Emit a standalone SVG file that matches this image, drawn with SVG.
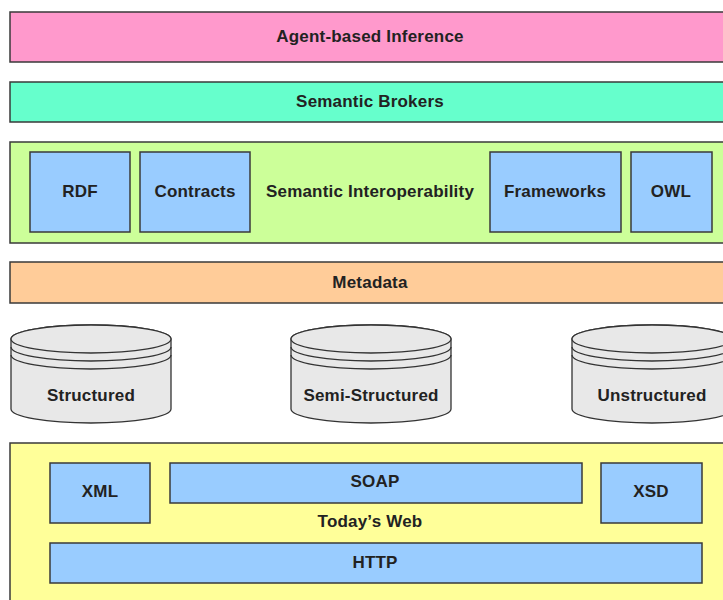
<svg xmlns="http://www.w3.org/2000/svg" width="723" height="600" viewBox="0 0 723 600">
<style>
.l{stroke:#3a3a3a;stroke-width:1.5}
.b{fill:#99CCFF;stroke:#3a3a3a;stroke-width:1.5}
.c{fill:#E8E8E8;stroke:#333;stroke-width:1.3}
.t{font-family:"Liberation Sans",Arial,sans-serif;font-weight:bold;font-size:17px;letter-spacing:0.2px;fill:#222;text-anchor:middle;dominant-baseline:central}
</style>
<rect width="723" height="600" fill="#fff"/>
<g id="agent"><rect class="l" x="10" y="12" width="730" height="50" fill="#FF99CC"/><text class="t" x="370" y="36">Agent-based Inference</text></g>
<g id="brokers"><rect class="l" x="10" y="82" width="730" height="40" fill="#66FFCC"/><text class="t" x="370" y="101">Semantic Brokers</text></g>
<g id="interop"><rect class="l" x="10" y="142" width="730" height="101" fill="#CCFF99"/><text class="t" x="370" y="191">Semantic Interoperability</text></g>
<g id="rdf"><rect class="b" x="30" y="152" width="100" height="80"/><text class="t" x="80" y="191">RDF</text></g>
<g id="contracts"><rect class="b" x="140" y="152" width="110" height="80"/><text class="t" x="195" y="191">Contracts</text></g>
<g id="frameworks"><rect class="b" x="490" y="152" width="131" height="80"/><text class="t" x="555" y="191">Frameworks</text></g>
<g id="owl"><rect class="b" x="631" y="152" width="81" height="80"/><text class="t" x="671" y="191">OWL</text></g>
<g id="metadata"><rect class="l" x="10" y="262" width="730" height="41" fill="#FFCC99"/><text class="t" x="370" y="282">Metadata</text></g>
<g id="structured"><path class="c" d="M11,339 A80,14 0 0 1 171,339 V409 A80,14 0 0 1 11,409 Z"/><ellipse class="c" cx="91" cy="339" rx="80" ry="14"/><path fill="none" stroke="#333" stroke-width="1.3" d="M11,347 A80,14 0 0 0 171,347 M11,355 A80,14 0 0 0 171,355"/><text class="t" x="91" y="395">Structured</text></g>
<g id="semi"><path class="c" d="M291,339 A80,14 0 0 1 451,339 V409 A80,14 0 0 1 291,409 Z"/><ellipse class="c" cx="371" cy="339" rx="80" ry="14"/><path fill="none" stroke="#333" stroke-width="1.3" d="M291,347 A80,14 0 0 0 451,347 M291,355 A80,14 0 0 0 451,355"/><text class="t" x="371" y="395">Semi-Structured</text></g>
<g id="unstructured"><path class="c" d="M572,339 A80,14 0 0 1 732,339 V409 A80,14 0 0 1 572,409 Z"/><ellipse class="c" cx="652" cy="339" rx="80" ry="14"/><path fill="none" stroke="#333" stroke-width="1.3" d="M572,347 A80,14 0 0 0 732,347 M572,355 A80,14 0 0 0 732,355"/><text class="t" x="652" y="395">Unstructured</text></g>
<g id="web"><rect class="l" x="10" y="443" width="730" height="170" fill="#FFFF99"/><text class="t" x="370" y="521">Today’s Web</text></g>
<g id="xml"><rect class="b" x="50" y="463" width="100" height="60"/><text class="t" x="100" y="491">XML</text></g>
<g id="soap"><rect class="b" x="170" y="463" width="412" height="40"/><text class="t" x="375" y="481">SOAP</text></g>
<g id="xsd"><rect class="b" x="601" y="463" width="101" height="60"/><text class="t" x="651" y="491">XSD</text></g>
<g id="http"><rect class="b" x="50" y="543" width="652" height="40"/><text class="t" x="375" y="562">HTTP</text></g>
<g id="connectors"/>
</svg>
